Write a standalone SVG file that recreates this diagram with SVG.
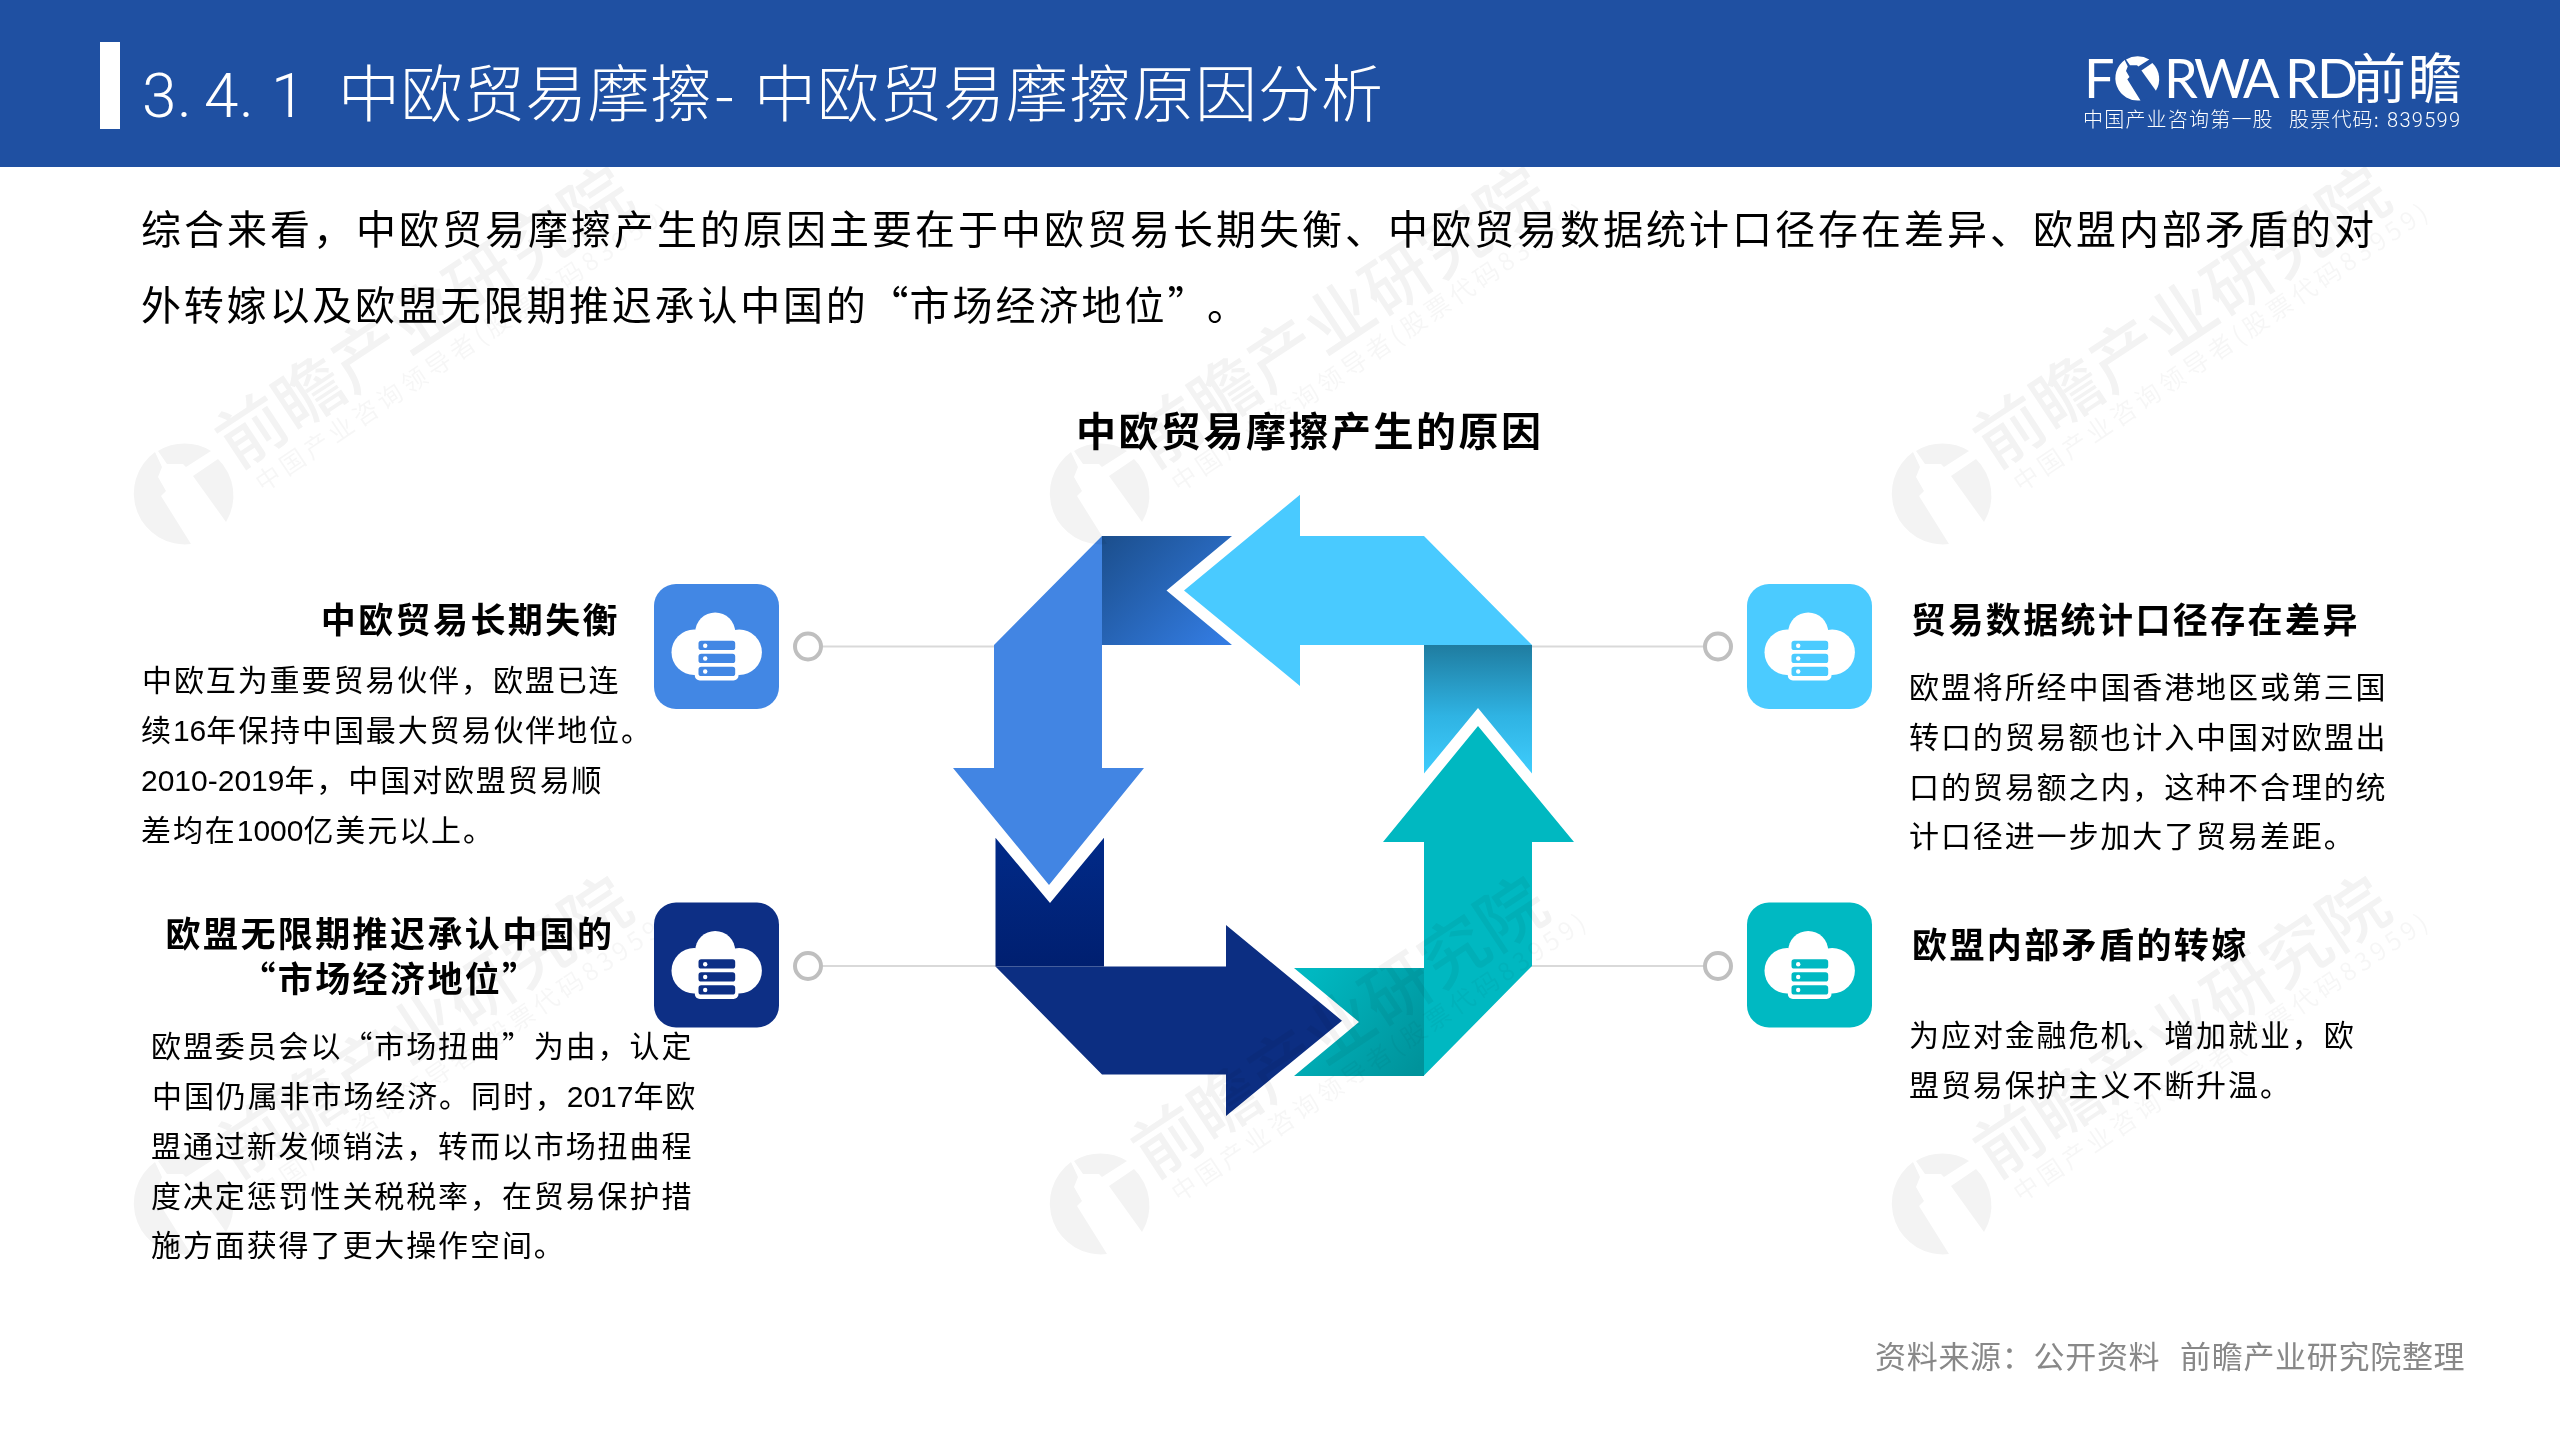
<svg xmlns="http://www.w3.org/2000/svg" width="2560" height="1440" viewBox="0 0 2560 1440">
<style>
text{font-family:"Noto Sans CJK SC",sans-serif;fill:#000}
.main{font-size:40px;letter-spacing:3px}
.cap{font-size:40px;font-weight:700;letter-spacing:2.5px}
.hd{font-size:35px;font-weight:700;letter-spacing:2.4px}
.bd{font-size:30px;letter-spacing:1.9px}
.num{font-family:"Liberation Sans",sans-serif;letter-spacing:0}
.wm1{font-size:68px;font-weight:500;fill:#000}
.wm2{font-size:25px;fill:#000;opacity:.7}
.ln{stroke:#d9d9d9;stroke-width:2;fill:none}
.dot{fill:#fff;stroke:#bfbfbf;stroke-width:4}
</style>
<defs>
<linearGradient id="gBlue" gradientUnits="userSpaceOnUse" x1="1102" y1="536" x2="1215" y2="650"><stop offset="0" stop-color="#1b4e8c"/><stop offset="1" stop-color="#337ce2"/></linearGradient>
<linearGradient id="gLight" gradientUnits="userSpaceOnUse" x1="1478" y1="645" x2="1478" y2="774"><stop offset="0" stop-color="#1f7ca0"/><stop offset="0.55" stop-color="#2fb3e3"/><stop offset="1" stop-color="#3fcdfd"/></linearGradient>
<linearGradient id="gNavy" gradientUnits="userSpaceOnUse" x1="1050" y1="838" x2="1050" y2="966"><stop offset="0" stop-color="#012a88"/><stop offset="1" stop-color="#001f70"/></linearGradient>
<linearGradient id="gTeal" gradientUnits="userSpaceOnUse" x1="1310" y1="975" x2="1424" y2="1060"><stop offset="0" stop-color="#00b8c1"/><stop offset="1" stop-color="#00939b"/></linearGradient>
<g id="mark">
<path d="M-28-41L-21-26L-25-16L-17-2L-22 3L8 51A51 51 0 0 1-28-41Z"/>
<path d="M-25-42A51 51 0 0 1 28-42L3-26L0-29L-16-29Z"/>
<path d="M35-34A51 51 0 0 1 43 29L10-17Z"/>
</g>
<g id="wm">
<use href="#mark" x="183" y="493"/>
<text class="wm1" transform="translate(237 470) rotate(-33.5)" textLength="480">前瞻产业研究院</text>
<text class="wm2" transform="translate(263 493) rotate(-34)" textLength="493">中国产业咨询领导者(股票代码83959)</text>
</g>
<g id="icon">
<rect x="-62.5" y="-62.5" width="125" height="125" rx="22" fill="currentColor"/>
<g fill="#fff">
<circle cx="-22.3" cy="5.7" r="22.7"/><circle cx="22.7" cy="5.7" r="22.7"/><circle cx="-1.3" cy="-14" r="20"/>
<rect x="-22" y="-8" width="44" height="36"/>
<rect x="-21.7" y="-9.3" width="43.7" height="43.3" rx="5"/>
</g>
<g fill="currentColor">
<rect x="-18" y="-5.7" width="36.7" height="9.3" rx="2.7"/><rect x="-18" y="7.3" width="36.7" height="9.3" rx="2.7"/><rect x="-18" y="20.3" width="36.7" height="9.3" rx="2.7"/>
</g>
<g fill="#fff"><circle cx="-11.3" cy="-0.7" r="2.2"/><circle cx="-11.3" cy="12" r="2.2"/><circle cx="-11.3" cy="25" r="2.2"/></g>
</g>
</defs>
<rect width="2560" height="1440" fill="#fff"/>

<g id="connectors">
<path class="ln" d="M822 646.5H996M822 966H997M1530 646.5H1704M1530 966H1704"/>
</g>

<g id="cycle">
<path d="M1102 536H1232L1166.5 590.5L1232 645H1102Z" fill="url(#gBlue)"/>
<path d="M1102 536L994 645V768H953L1049 885L1144 768H1102Z" fill="#4285e3"/>
<path d="M1424 645H1532V773.600L1478 708L1424 773.600Z" fill="url(#gLight)"/>
<path d="M1184 590.500L1300 494.700V536H1424L1532 645H1300V686Z" fill="#49caff"/>
<path d="M1294 968H1424V1076H1294L1359 1022Z" fill="url(#gTeal)"/>
<path d="M1478 726L1574 842H1532V966L1424 1075.500V842H1383Z" fill="#00b8c1"/>
<path d="M995.500 837.700L1050 903L1104 837.700V966.500H995.500Z" fill="url(#gNavy)"/>
<path d="M995.500 966.500H1226V925L1342 1020.700L1226 1116V1074.500H1102Z" fill="#0c2e82"/>
</g>

<g id="watermarks" opacity="0.05">
<use href="#wm"/><use href="#wm" x="916"/><use href="#wm" x="1758"/>
<use href="#wm" y="710"/><use href="#wm" x="916" y="710"/><use href="#wm" x="1758" y="710"/>
</g>

<g id="header">
<rect width="2560" height="167" fill="#1f50a2"/>
<rect x="100" y="42" width="20" height="87" fill="#fff"/>
<text y="117" font-size="62" font-weight="300" style="fill:#fff"><tspan x="142 177 204 239 271" style="font-family:Roboto,sans-serif">3.4.1</tspan><tspan x="338" letter-spacing="0.4">中欧贸易摩擦</tspan><tspan x="714">-</tspan><tspan x="754" letter-spacing="1">中欧贸易摩擦原因分析</tspan></text>
<text y="98" font-size="54" style="fill:#fff;font-family:Lato,sans-serif" x="2084 2115 2164 2194 2243 2285 2317">FORWARD</text>
<circle cx="2137" cy="78" r="23" fill="#1f50a2"/>
<use href="#mark" transform="translate(2137 78) scale(.44)" fill="#fff"/>
<text x="2352" y="99" font-size="54" style="fill:#fff" letter-spacing="2">前瞻</text>
<text y="127" font-size="20" font-weight="300" style="fill:#fff"><tspan x="2083" letter-spacing="1.2">中国产业咨询第一股</tspan><tspan x="2289" letter-spacing="1.2">股票代码:</tspan><tspan x="2387" letter-spacing="1.3" style="font-family:Roboto,sans-serif">839599</tspan></text>
</g>

<g id="intro">
<text class="main" x="141" y="244">综合来看，中欧贸易摩擦产生的原因主要在于中欧贸易长期失衡、中欧贸易数据统计口径存在差异、欧盟内部矛盾的对</text>
<text class="main" y="320"><tspan x="141" letter-spacing="2.8">外转嫁以及欧盟无限期推迟承认中国的“</tspan><tspan x="909.500">市场经济地位”</tspan><tspan x="1207">。</tspan></text>
</g>
<text id="cycle-title" class="cap" x="1076" y="446">中欧贸易摩擦产生的原因</text>

<g id="node-1">
<circle class="dot" cx="808" cy="646.500" r="13"/>
<use href="#icon" transform="translate(716.500 646.500)" style="color:#4287e4"/>
<text class="hd" x="620" y="633" text-anchor="end">中欧贸易长期失衡</text>
<text class="bd" x="142" y="691">中欧互为重要贸易伙伴，欧盟已连</text>
<text class="bd" x="141" y="741">续<tspan class="num">16</tspan>年保持中国最大贸易伙伴地位。</text>
<text class="bd" x="141" y="791"><tspan class="num" letter-spacing="0.5">2010-2019</tspan>年，中国对欧盟贸易顺</text>
<text class="bd" x="141" y="841">差均在<tspan class="num">1000</tspan>亿美元以上。</text>
</g>
<g id="node-2">
<circle class="dot" cx="808" cy="966" r="13"/>
<use href="#icon" transform="translate(716.500 965)" style="color:#0d2f85"/>
<text class="hd" x="390" y="947" text-anchor="middle">欧盟无限期推迟承认中国的</text>
<text class="hd" x="390" y="992" text-anchor="middle">“市场经济地位”</text>
<text class="bd" x="151" y="1057">欧盟委员会以“市场扭曲”为由，认定</text>
<text class="bd" x="152" y="1107">中国仍属非市场经济。同时，<tspan class="num">2017</tspan>年欧</text>
<text class="bd" x="151" y="1157">盟通过新发倾销法，转而以市场扭曲程</text>
<text class="bd" x="151" y="1207">度决定惩罚性关税税率，在贸易保护措</text>
<text class="bd" x="151" y="1256">施方面获得了更大操作空间。</text>
</g>
<g id="node-3">
<circle class="dot" cx="1718" cy="646.500" r="13"/>
<use href="#icon" transform="translate(1809.500 646.500)" style="color:#4bcbff"/>
<text class="hd" x="1911" y="633">贸易数据统计口径存在差异</text>
<text class="bd" x="1909" y="698">欧盟将所经中国香港地区或第三国</text>
<text class="bd" x="1909" y="748">转口的贸易额也计入中国对欧盟出</text>
<text class="bd" x="1909" y="798">口的贸易额之内，这种不合理的统</text>
<text class="bd" x="1909" y="847">计口径进一步加大了贸易差距。</text>
</g>
<g id="node-4">
<circle class="dot" cx="1718" cy="966" r="13"/>
<use href="#icon" transform="translate(1809.500 965)" style="color:#00b9c2"/>
<text class="hd" x="1912" y="958">欧盟内部矛盾的转嫁</text>
<text class="bd" x="1909" y="1046">为应对金融危机、增加就业，欧</text>
<text class="bd" x="1909" y="1096">盟贸易保护主义不断升温。</text>
</g>
<text id="source" y="1368" font-size="31" style="fill:#888" letter-spacing="0.7"><tspan x="1875">资料来源：公开资料</tspan><tspan x="2180">前瞻产业研究院整理</tspan></text>
</svg>
